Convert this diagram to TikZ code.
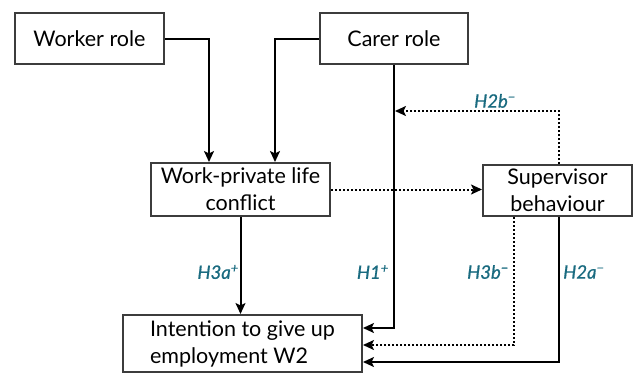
\documentclass[tikz,border=0pt]{standalone}
\usepackage{fontspec}
\setmainfont{Lato}
\usetikzlibrary{arrows.meta,calc}
\definecolor{lab}{HTML}{1A6B80}
\definecolor{bord}{HTML}{3C3C3C}
\tikzset{
  box/.style={draw=bord, line width=2pt, fill=white, inner sep=0pt, align=center,
     font=\fontsize{21.5}{27}\selectfont},
  arr/.style={line width=2pt, -{Stealth[length=11pt,width=10pt,inset=2.5pt]}},
  dotarr/.style={arr, dash pattern=on 2pt off 2pt},
  hyp/.style={text=lab, font=\fontsize{18.5}{20}\selectfont\itshape\addfontfeatures{FakeBold=0.8}, inner sep=0pt}
}
\begin{document}
\begin{tikzpicture}[x=1pt,y=-1pt]
\useasboundingbox (0,0) rectangle (633,373);
\node[box, minimum width=149pt, minimum height=51pt] (worker) at (89.5,38.5) {Worker role};
\node[box, minimum width=148pt, minimum height=51pt] (carer) at (394,38.5) {Carer role};
\node[box, minimum width=179pt, minimum height=53pt] (wpl) at (240.5,189.5) {Work-private life\\conflict};
\node[box, minimum width=149pt, minimum height=51pt] (sup) at (557.5,190.5) {Supervisor\\behaviour};
\node[box, minimum width=239pt, minimum height=57pt, align=left] (int) at (242.5,343.5) {Intention to give up\\employment W2};

\draw[arr] (worker.east) -| ([xshift=-31.5pt]wpl.north);
\draw[arr] (carer.west) -| ([xshift=34.5pt]wpl.north);
\draw[arr] (wpl.south) -- (wpl.south |- int.north);
\draw[arr] (carer.south) |- ([yshift=15.5pt]int.east);
\draw[dotarr] (wpl.east) -- (wpl.east -| sup.west);
\path (carer.south) ++(1pt,46) coordinate (h2b);
\draw[dotarr] ([xshift=1.5pt]sup.north) |- (h2b);
\draw[dotarr] ([xshift=-43.5pt]sup.south) |- ([yshift=-1.5pt]int.east);
\draw[arr] ([xshift=1.5pt]sup.south) |- ([yshift=-18.5pt]int.east);

\node[hyp, anchor=south] (lh2b) at (495,108) {H2b\textsuperscript{−}};
\node[hyp, anchor=east] (lh3a) at (239,272) {H3a\textsuperscript{+}};
\node[hyp, anchor=east] (lh1) at (389,272) {H1\textsuperscript{+}};
\node[hyp, anchor=east] (lh3b) at (509,272) {H3b\textsuperscript{−}};
\node[hyp, anchor=west] (lh2a) at (563,272) {H2a\textsuperscript{−}};
\end{tikzpicture}
\end{document}
